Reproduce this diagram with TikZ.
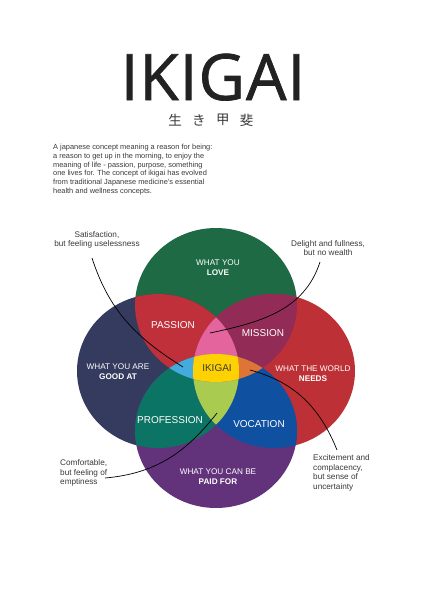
\documentclass[tikz,border=0pt]{standalone}
\usepackage{fontspec}
\setmainfont{Liberation Sans}
\newfontfamily\titlefont[FakeBold=1.1, LetterSpace=1.5]{Open Sans}
\newfontfamily\jpfont{Noto Sans CJK JP}
\usetikzlibrary{positioning}
\definecolor{lovegreen}{HTML}{1D6A45}
\definecolor{goodnavy}{HTML}{353B5E}
\definecolor{needsred}{HTML}{BD3036}
\definecolor{paidpurple}{HTML}{62337B}
\definecolor{passionred}{HTML}{C0303A}
\definecolor{missionplum}{HTML}{922C56}
\definecolor{profteal}{HTML}{0B7464}
\definecolor{vocblue}{HTML}{0F50A0}
\definecolor{pinkzone}{HTML}{E4649E}
\definecolor{limezone}{HTML}{A9CB50}
\definecolor{skyzone}{HTML}{45AADE}
\definecolor{orangezone}{HTML}{DE7436}
\definecolor{ikigaiyellow}{HTML}{FDD102}
\definecolor{txtgray}{HTML}{3A3A3A}
\definecolor{titlegray}{HTML}{222222}

% the four circles
\newcommand\lovepath{(216,305) ellipse [x radius=81, y radius=77]}
\newcommand\goodpath{(158,371) ellipse [x radius=81, y radius=77]}
\newcommand\needspath{(274,371) ellipse [x radius=81, y radius=77]}
\newcommand\paidpath{(216,431) ellipse [x radius=81, y radius=77]}

\tikzset{
  circtxt/.style={text=white, align=center, inner sep=0, font=\fontsize{8.2}{10}\selectfont},
  zonetxt/.style={text=white, inner sep=0, font=\fontsize{10}{12}\selectfont},
  notetxt/.style={text=txtgray, inner sep=0, font=\fontsize{8.2}{9.6}\selectfont},
  kanjitxt/.style={text=txtgray, inner sep=0, font=\jpfont\fontsize{13.5}{14}\selectfont},
  linkline/.style={black, line width=0.7pt}
}

\begin{document}
\begin{tikzpicture}[x=1pt, y=-1pt]
  \fill[white] (0,0) rectangle (425,600);
  \useasboundingbox (0,0) rectangle (425,600);

  % Title
  \node[anchor=base, text=titlegray, inner sep=0, font=\titlefont\fontsize{64}{64}\selectfont] (title) at (213,100) {IKIGAI};
  \node[kanjitxt] (kan1) at (175,120) {生};
  \node[kanjitxt, right=10pt of kan1] (kan2) {き};
  \node[kanjitxt, right=10pt of kan2] (kan3) {甲};
  \node[kanjitxt, right=10pt of kan3] (kan4) {斐};

  % Intro
  \node[anchor=north west, align=left, text=txtgray, inner sep=0, font=\fontsize{7.4}{8.8}\selectfont] (intro) at (53,144)
    {A japanese concept meaning a reason for being:\\
     a reason to get up in the morning, to enjoy the\\
     meaning of life - passion, purpose, something\\
     one lives for. The concept of ikigai has evolved\\
     from traditional Japanese medicine's essential\\
     health and wellness concepts.};

  % Circles
  \fill[lovegreen] \lovepath;
  \fill[goodnavy] \goodpath;
  \fill[needsred] \needspath;
  \fill[paidpurple] \paidpath;

  % Pairs
  \begin{scope}
    \clip \lovepath;
    \fill[passionred] \goodpath;
    \fill[missionplum] \needspath;
  \end{scope}
  \begin{scope}
    \clip \paidpath;
    \fill[profteal] \goodpath;
    \fill[vocblue] \needspath;
  \end{scope}

  % Triples
  \begin{scope}
    \clip \goodpath; \clip \needspath;
    \fill[pinkzone] \lovepath;
    \fill[limezone] \paidpath;
  \end{scope}
  \begin{scope}
    \clip \lovepath; \clip \paidpath;
    \fill[skyzone] \goodpath;
    \fill[orangezone] \needspath;
  \end{scope}

  % All four
  \begin{scope}
    \clip \lovepath; \clip \paidpath; \clip \goodpath;
    \fill[ikigaiyellow] \needspath;
  \end{scope}

  % Circle labels
  \node[circtxt] (love) at (218,268) {WHAT YOU\\\textbf{LOVE}};
  \node[circtxt] (good) at (118,372) {WHAT YOU ARE\\\textbf{GOOD AT}};
  \node[circtxt] (needs) at (313,374) {WHAT THE WORLD\\\textbf{NEEDS}};
  \node[circtxt] (paid) at (218,477) {WHAT YOU CAN BE\\\textbf{PAID FOR}};

  % Zone labels
  \node[zonetxt] (passion) at (173,325) {PASSION};
  \node[zonetxt] (mission) at (263,333) {MISSION};
  \node[zonetxt] (profession) at (170,420) {PROFESSION};
  \node[zonetxt] (vocation) at (259,424) {VOCATION};
  \node[zonetxt, text=txtgray] (ikigai) at (217,368) {IKIGAI};

  % Notes
  \node[notetxt, align=center] (satnote) at (97,240) {Satisfaction,\\but feeling uselessness};
  \node[notetxt, align=center] (delnote) at (328,248) {Delight and fullness,\\but no wealth};
  \node[notetxt, align=left, anchor=west] (comnote) at (60,473) {Comfortable,\\but feeling of\\emptiness};
  \node[notetxt, align=left, anchor=west] (excnote) at (313,473) {Excitement and\\complacency,\\but sense of\\uncertainty};

  % Note links
  \coordinate (satfrom) at (92,258);
  \coordinate (satto) at (183,367);
  \coordinate (delfrom) at (320,262);
  \coordinate (delto) at (210,333);
  \coordinate (comfrom) at (105,478);
  \coordinate (comto) at (217,413);
  \coordinate (excfrom) at (250,370);
  \coordinate (excto) at (337,450);

  \draw[linkline] (satfrom) to[out=-72, in=148] (satto);
  \draw[linkline] (delfrom) to[out=-108, in=12] (delto);
  \draw[linkline] (comfrom) to[out=5, in=232] (comto);
  \draw[linkline] (excfrom) to[out=-15, in=112] (excto);
\end{tikzpicture}
\end{document}
